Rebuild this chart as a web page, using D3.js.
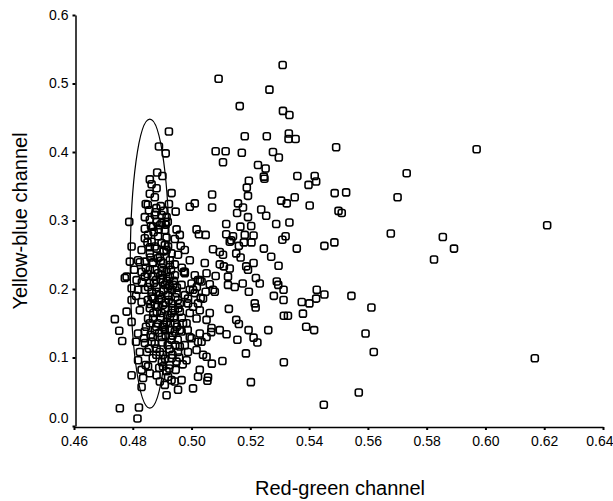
<!DOCTYPE html>
<html>
<head>
<meta charset="utf-8">
<script src="https://cdn.jsdelivr.net/npm/d3@7"></script>
<style>
  body { margin: 0; background: #fff; }
  svg { font-family: "Liberation Sans", Arial, sans-serif; }
</style>
</head>
<body>
<div id="chart"></div>
<script>
// tick values
const xTicks = [0.46, 0.48, 0.50, 0.52, 0.54, 0.56, 0.58, 0.60, 0.62, 0.64];
const yTicks = [0.0, 0.1, 0.2, 0.3, 0.4, 0.5, 0.6];

// ellipse: centre (red-green, yellow-blue) and half widths
const ellipseCentre = [0.4858, 0.237];
const ellipseRadii = [0.00665, 0.211];

// [red-green, yellow-blue]
const points = [
  // sparse upper part
  [0.5310,0.527],[0.5092,0.507],[0.5265,0.491],[0.5164,0.467],[0.5311,0.460],[0.5333,0.454],
  [0.5181,0.423],[0.5256,0.423],[0.5331,0.427],[0.5330,0.419],[0.5354,0.419],[0.5492,0.407],
  [0.5082,0.401],[0.5116,0.401],[0.5171,0.399],[0.5277,0.400],[0.5297,0.392],[0.5107,0.385],
  [0.5226,0.381],[0.5252,0.376],[0.5246,0.364],[0.5248,0.361],[0.5360,0.365],[0.5419,0.365],
  [0.5398,0.352],[0.5424,0.357],[0.5195,0.358],[0.5188,0.348],[0.5192,0.336],[0.5070,0.338],
  [0.5070,0.319],[0.5011,0.325],[0.4994,0.320],[0.5158,0.325],[0.5175,0.319],[0.5155,0.311],
  [0.5192,0.305],[0.5237,0.316],[0.5254,0.307],[0.5305,0.329],[0.5324,0.325],[0.5351,0.334],
  [0.5402,0.322],[0.5487,0.340],[0.5526,0.341],[0.5500,0.314],[0.5511,0.311],
  // far right
  [0.5970,0.404],[0.5732,0.369],[0.5701,0.334],[0.5678,0.281],[0.5855,0.276],[0.5893,0.259],
  [0.5825,0.243],[0.6210,0.293],[0.6168,0.099],
  // middle
  [0.5452,0.263],[0.5486,0.268],[0.5358,0.259],[0.5246,0.259],[0.5271,0.247],[0.5296,0.234],
  [0.5211,0.238],[0.5186,0.233],[0.5219,0.216],[0.5232,0.208],[0.5174,0.208],[0.5195,0.196],
  [0.5290,0.211],[0.5295,0.206],[0.5313,0.199],[0.5280,0.190],[0.5313,0.184],[0.5426,0.199],
  [0.5424,0.186],[0.5452,0.192],[0.5401,0.179],[0.5375,0.181],[0.5379,0.164],[0.5544,0.190],
  [0.5612,0.173],[0.5314,0.161],[0.5328,0.161],[0.5390,0.145],[0.5417,0.140],[0.5261,0.140],
  [0.5592,0.135],[0.5620,0.108],[0.5314,0.093],[0.5202,0.064],[0.5569,0.049],[0.5450,0.031],
  [0.5127,0.171],[0.5218,0.173],[0.5152,0.155],[0.5161,0.149],[0.5194,0.140],[0.5211,0.129],
  [0.5224,0.122],[0.5156,0.126],[0.5119,0.134],[0.5096,0.140],[0.5185,0.106],[0.5105,0.095],
  [0.5069,0.091],[0.5056,0.071],[0.5054,0.066],[0.5028,0.082],[0.5005,0.055],[0.5124,0.206],
  [0.5147,0.203],
  [0.5118,0.295],[0.5166,0.291],[0.5203,0.292],[0.5288,0.295],[0.5333,0.297],[0.5118,0.280],
  [0.5141,0.277],[0.5211,0.278],[0.5181,0.279],[0.5135,0.271],[0.5178,0.268],[0.5204,0.268],
  [0.5320,0.277],[0.5309,0.272],[0.5161,0.263],[0.5152,0.252],[0.5167,0.246],[0.5073,0.258],
  [0.5096,0.254],[0.5107,0.250],[0.5045,0.238],[0.5096,0.236],[0.5110,0.233],[0.5130,0.230],
  [0.5124,0.218],[0.5082,0.219],[0.5051,0.223],[0.4977,0.225],[0.5073,0.199],[0.5034,0.211],
  [0.5215,0.179],[0.5067,0.137],[0.5028,0.135],[0.5034,0.123],[0.5051,0.130],[0.5039,0.104],
  [0.5051,0.101],[0.5022,0.072],[0.5130,0.269],[0.5192,0.228],
  // dense cluster, upper half
  [0.4923,0.430],[0.4889,0.408],[0.4912,0.398],[0.4883,0.370],[0.4901,0.365],[0.4858,0.360],
  [0.4864,0.353],[0.4881,0.347],[0.4858,0.339],[0.4932,0.340],[0.4844,0.324],[0.4923,0.324],
  [0.4946,0.313],[0.4788,0.298],[0.4841,0.305],[0.4875,0.308],[0.4898,0.308],[0.4915,0.305],
  [0.4858,0.301],[0.4881,0.298],[0.4898,0.296],[0.4841,0.288],[0.4869,0.291],[0.4909,0.286],
  [0.4949,0.287],[0.5017,0.287],[0.5025,0.280],[0.4852,0.279],[0.4886,0.277],[0.4915,0.275],
  [0.4943,0.273],[0.4864,0.269],[0.4898,0.267],[0.4963,0.263],[0.4796,0.262],[0.4830,0.257],
  [0.4881,0.259],[0.4915,0.257],[0.4932,0.252],[0.4858,0.252],[0.4892,0.247],[0.4954,0.250],
  [0.4790,0.240],[0.4818,0.242],[0.4841,0.240],[0.4869,0.238],[0.4903,0.238],[0.4926,0.235],
  [0.4805,0.228],[0.4830,0.225],[0.4858,0.228],[0.4886,0.223],[0.4915,0.225],[0.4943,0.220],
  [0.4974,0.225],[0.4779,0.218],[0.4773,0.216],[0.5048,0.279],[0.4796,0.201],
  // dense cluster, lower half
  [0.4739,0.156],[0.4754,0.139],[0.4764,0.124],[0.4796,0.074],[0.4830,0.057],[0.4756,0.026],
  [0.4821,0.027],[0.4816,0.011],[0.4796,0.184],[0.4779,0.167],[0.4796,0.152],[0.4811,0.123],
  [0.4818,0.096],[0.4830,0.082],[0.4844,0.089],[0.4858,0.077],[0.4881,0.074],[0.4892,0.065],
  [0.4915,0.045],[0.4920,0.072],[0.4932,0.067],[0.4943,0.065],[0.4954,0.053],[0.4966,0.067],
  [0.4924,0.084],[0.4903,0.087],[0.4983,0.096],[0.5017,0.111],[0.4988,0.108],[0.4960,0.116],
  [0.4949,0.094],[0.5000,0.128],[0.5068,0.143],[0.5051,0.155],[0.5017,0.157],[0.4983,0.150],
  [0.4960,0.140],[0.5005,0.174],[0.5028,0.169],[0.5062,0.165],[0.5079,0.196],[0.5039,0.186],
  [0.4988,0.186],[0.5005,0.199],
  [0.4813,0.213],[0.4818,0.199],[0.4830,0.181],[0.4852,0.157],[0.4818,0.135],[0.4841,0.121],
  [0.4824,0.108],[0.4852,0.087],[0.4835,0.070],[0.4909,0.060],[0.5022,0.123],[0.4994,0.130],
  [0.4954,0.108],[0.4932,0.099],[0.4903,0.104],[0.4881,0.113],[0.4864,0.123],[0.4898,0.130],
  [0.4932,0.126],[0.4966,0.138],[0.4943,0.138],[0.4909,0.140],[0.4875,0.140],[0.4841,0.138],
  [0.4971,0.150],[0.4943,0.150],[0.4915,0.152],[0.4886,0.150],[0.4869,0.157],[0.4898,0.165],
  [0.4932,0.165],[0.4960,0.167],[0.4994,0.165],[0.5022,0.179],[0.4988,0.179],[0.4960,0.179],
  [0.4932,0.179],[0.4903,0.177],[0.4875,0.177],[0.4864,0.189],[0.4892,0.191],[0.4920,0.191],
  [0.4949,0.194],[0.4977,0.191],[0.5011,0.194],[0.4966,0.206],[0.4937,0.206],[0.4909,0.206],
  [0.4881,0.203],[0.4852,0.203],[0.5000,0.208],[0.5022,0.213],[0.4977,0.223],[0.4841,0.218],
  [0.4869,0.218],[0.4898,0.220],[0.4926,0.218],
  // core fill
  [0.4868,0.239],[0.4885,0.245],[0.4899,0.231],[0.4879,0.213],[0.4902,0.210],[0.4919,0.201],
  [0.4865,0.196],[0.4889,0.184],[0.4913,0.180],[0.4858,0.172],[0.4882,0.166],[0.4926,0.158],
  [0.4902,0.145],[0.4861,0.133],[0.4919,0.118],[0.4892,0.108],[0.4868,0.099],[0.4926,0.089],
  [0.4946,0.082],[0.4899,0.093],[0.4848,0.108],[0.4838,0.128],[0.4851,0.184],[0.4841,0.199],
  [0.4933,0.199],[0.4953,0.184],[0.4943,0.169],[0.4967,0.158],[0.4926,0.140],[0.4953,0.126],
  [0.4977,0.118],[0.4987,0.140],[0.4824,0.169],[0.4811,0.190],[0.4831,0.210],[0.4844,0.231],
  [0.4824,0.239],[0.4926,0.242],[0.4943,0.236],[0.4967,0.231],[0.4909,0.264],[0.4871,0.283],
  [0.4892,0.293],[0.4841,0.274],[0.4919,0.298],[0.4878,0.312],[0.4895,0.321],[0.4851,0.323],
  [0.4875,0.334],[0.4858,0.261],[0.4960,0.279],[0.4977,0.257],[0.4994,0.242],[0.5011,0.220],
  [0.4994,0.199],[0.5028,0.213],[0.5018,0.203],[0.5048,0.196],[0.5031,0.187],[0.5062,0.207],
  [0.4855,0.315],[0.4880,0.318],[0.4905,0.314],[0.4862,0.292],[0.4888,0.287],[0.4912,0.294],
  [0.4850,0.268],[0.4875,0.262],[0.4905,0.255],[0.4920,0.262],[0.4860,0.246],[0.4895,0.241],
  [0.4875,0.228],[0.4900,0.226],[0.4930,0.228],[0.4850,0.222],[0.4872,0.209],[0.4895,0.214],
  [0.4915,0.212],[0.4940,0.212],[0.4858,0.209],[0.4880,0.196],[0.4905,0.198],[0.4925,0.205],
  [0.4950,0.202],[0.4870,0.186],[0.4898,0.186],[0.4922,0.184],[0.4945,0.188],[0.4860,0.178],
  [0.4885,0.174],[0.4910,0.170],[0.4935,0.172],[0.4955,0.172],[0.4870,0.165],[0.4895,0.158],
  [0.4918,0.162],[0.4940,0.158],[0.4858,0.150],[0.4880,0.145],[0.4905,0.148],[0.4928,0.150],
  [0.4950,0.145],[0.4868,0.130],[0.4890,0.136],[0.4912,0.132],[0.4935,0.132],[0.4875,0.120],
  [0.4900,0.122],[0.4925,0.112],[0.4945,0.118],[0.4880,0.104],[0.4910,0.098],[0.4935,0.104],
  [0.4890,0.085],[0.4915,0.080],[0.4958,0.100],[0.4970,0.090],[0.4855,0.113],[0.4845,0.145]
];

class scatterPlot {

  constructor(_config, _data) {
    this.config = {
      parentElement: _config.parentElement,
      containerWidth: _config.containerWidth || 613,
      containerHeight: _config.containerHeight || 501,
      markerSize: 7
    }
    this.data = _data;
    this.initVis();
  }

  initVis() {
    let vis = this;

    vis.svg = d3.select(vis.config.parentElement).append('svg')
      .attr('width', vis.config.containerWidth)
      .attr('height', vis.config.containerHeight);

    vis.x = d3.scaleLinear()
      .domain([0.46, 0.64])
      .range([74, 603]);

    vis.y = d3.scaleLinear()
      .domain([0, 0.6])
      .range([426, 15]);

    vis.xAxis = vis.svg.append('g')
      .attr('transform', 'translate(0,427)')
      .call(d3.axisBottom(vis.x).tickValues(xTicks).tickFormat(d3.format('.2f'))
        .tickSize(3).tickSizeOuter(0).tickPadding(6));

    vis.yAxis = vis.svg.append('g')
      .attr('transform', 'translate(75.5,0)')
      .call(d3.axisLeft(vis.y).tickValues(yTicks).tickFormat(d3.format('.1f'))
        .tickSize(3).tickSizeOuter(0).tickPadding(4));

    vis.svg.selectAll('.domain').attr('stroke', '#000').attr('stroke-width', 1.5);
    vis.svg.selectAll('.tick line').attr('stroke', '#000').attr('stroke-width', 2);
    vis.svg.selectAll('.tick text').attr('font-size', 14).attr('fill', '#000')
      .attr('font-family', '"Liberation Sans", Arial, sans-serif');

    // the 0.0 label sits a little above the corner, the 0.64 label hugs the edge
    vis.yAxis.selectAll('.tick text').filter(d => d === 0).attr('y', -8);
    vis.xAxis.selectAll('.tick text').filter(d => d === 0.64)
      .attr('text-anchor', 'end').attr('x', 10);

    vis.svg.append('text')
      .attr('x', 340)
      .attr('y', 495)
      .attr('text-anchor', 'middle')
      .attr('font-size', 20)
      .text('Red-green channel');

    vis.svg.append('text')
      .attr('transform', 'translate(27,221) rotate(-90)')
      .attr('text-anchor', 'middle')
      .attr('font-size', 20)
      .text('Yellow-blue channel');

    vis.updateVis();
  }

  updateVis() {
    let vis = this;
    let s = vis.config.markerSize;

    vis.svg.append('ellipse')
      .attr('cx', vis.x(ellipseCentre[0]))
      .attr('cy', vis.y(ellipseCentre[1]))
      .attr('rx', vis.x(ellipseCentre[0] + ellipseRadii[0]) - vis.x(ellipseCentre[0]))
      .attr('ry', vis.y(ellipseCentre[1]) - vis.y(ellipseCentre[1] + ellipseRadii[1]))
      .attr('fill', 'none')
      .attr('stroke', '#000')
      .attr('stroke-width', 1.2);

    vis.svg.append('g').selectAll('rect')
      .data(vis.data)
      .join('rect')
      .attr('x', d => vis.x(d[0]) - s / 2)
      .attr('y', d => vis.y(d[1]) - s / 2)
      .attr('width', s)
      .attr('height', s)
      .attr('rx', 2)
      .attr('fill', 'none')
      .attr('stroke', '#000')
      .attr('stroke-width', 1.6);
  }
}

new scatterPlot({ parentElement: '#chart' }, points);
</script>
</body>
</html>
